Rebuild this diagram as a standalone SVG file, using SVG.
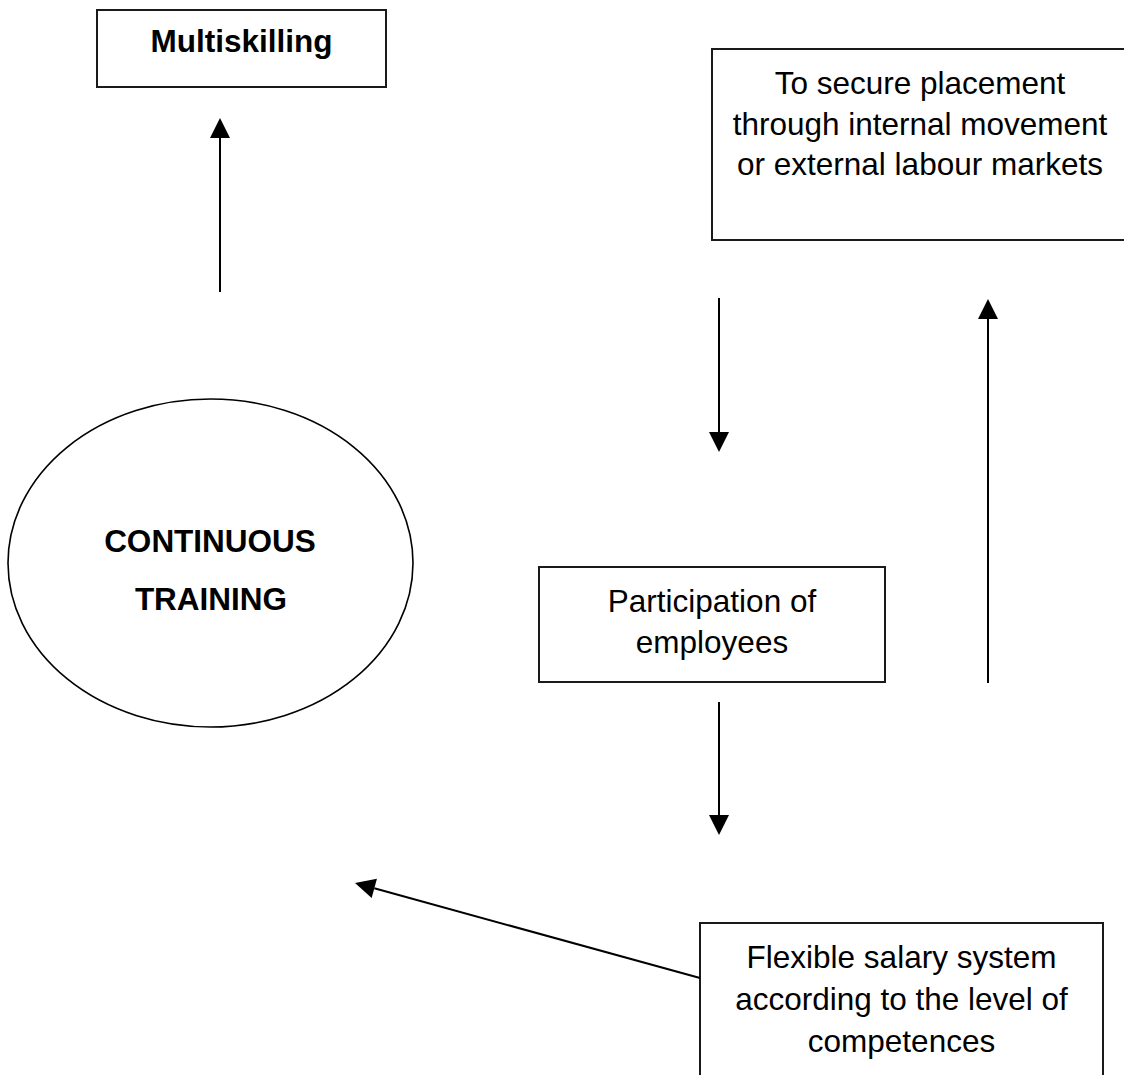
<svg xmlns="http://www.w3.org/2000/svg" width="1124" height="1075" viewBox="0 0 1124 1075">
  <style>
    .box { fill: #ffffff; stroke: #1a1a1a; stroke-width: 2; }
    .oval { fill: #ffffff; stroke: #000000; stroke-width: 1.6; }
    .lbl { font-family: "Liberation Sans", Arial, sans-serif; font-size: 31.5px; fill: #000000; text-anchor: middle; }
    .bold { font-weight: bold; }
    .link { stroke: #000000; stroke-width: 2; fill: none; marker-end: url(#head); }
  </style>
  <defs>
    <marker id="head" markerUnits="userSpaceOnUse" markerWidth="20" markerHeight="20" refX="0" refY="10" orient="auto" overflow="visible">
      <path d="M0,0 L20,10 L0,20 Z" fill="#000000"/>
    </marker>
  </defs>

  <rect width="1124" height="1075" fill="#ffffff"/>

  <g id="multiskilling">
    <rect class="box" x="97" y="10" width="289" height="77"/>
    <text class="lbl bold" x="241.5" y="52">Multiskilling</text>
  </g>

  <g id="placement">
    <rect class="box" x="712" y="49" width="416" height="191"/>
    <text class="lbl" x="920" y="94">To secure placement</text>
    <text class="lbl" x="920" y="134.5">through internal movement</text>
    <text class="lbl" x="920" y="175">or external labour markets</text>
  </g>

  <g id="continuous-training">
    <ellipse class="oval" cx="210.5" cy="563" rx="202.5" ry="164"/>
    <text class="lbl bold" x="210" y="552">CONTINUOUS</text>
    <text class="lbl bold" x="211" y="610">TRAINING</text>
  </g>

  <g id="participation">
    <rect class="box" x="539" y="567" width="346" height="115"/>
    <text class="lbl" x="712" y="611.5">Participation of</text>
    <text class="lbl" x="712" y="653">employees</text>
  </g>

  <g id="salary">
    <rect class="box" x="700" y="923" width="403" height="170"/>
    <text class="lbl" x="901.5" y="968">Flexible salary system</text>
    <text class="lbl" x="901.5" y="1010">according to the level of</text>
    <text class="lbl" x="901.5" y="1052">competences</text>
  </g>

  <g id="connectors">
    <line class="link" x1="220" y1="292" x2="220" y2="138"/>
    <line class="link" x1="719" y1="298" x2="719" y2="432"/>
    <line class="link" x1="988" y1="683" x2="988" y2="319"/>
    <line class="link" x1="719" y1="702" x2="719" y2="815"/>
    <line class="link" x1="700" y1="978" x2="374.3" y2="888.3"/>
  </g>
</svg>
